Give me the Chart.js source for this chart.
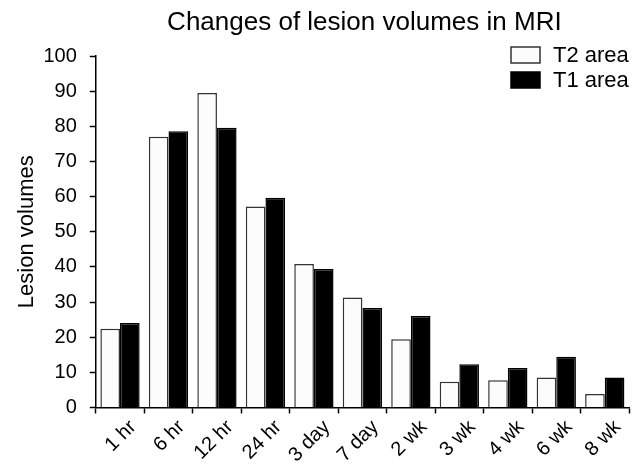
<!DOCTYPE html>
<html>
<head>
<meta charset="utf-8">
<script src="https://cdn.jsdelivr.net/npm/chart.js@4"></script>
<style>
  html, body { margin: 0; padding: 0; background: #fff; }
  #wrap { width: 642px; height: 464px; }
</style>
</head>
<body>
<div id="wrap"><canvas id="my-chart"></canvas></div>
<script>
const timePoints = ['1 hr', '6 hr', '12 hr', '24 hr', '3 day', '7 day', '2 wk', '3 wk', '4 wk', '6 wk', '8 wk'];
const t2Area = [22.4, 77.0, 89.5, 57.2, 40.8, 31.3, 19.4, 7.3, 7.7, 8.5, 3.8];
const t1Area = [24.0, 78.6, 79.6, 59.7, 39.4, 28.3, 26.0, 12.3, 11.2, 14.4, 8.5];
const yTicks = [0, 10, 20, 30, 40, 50, 60, 70, 80, 90, 100];
const chartTitle = 'Changes of lesion volumes in MRI';

const fontFamily = '"Liberation Sans", Arial, sans-serif';

// title + legend drawn by hand: title centred over the plot, legend stacked inside it
const titleAndLegend = {
  id: 'titleAndLegend',
  afterDraw(chart) {
    const ctx = chart.ctx;
    const area = chart.chartArea;
    ctx.save();
    ctx.fillStyle = '#000';
    ctx.font = '26px ' + fontFamily;
    ctx.textAlign = 'center';
    ctx.textBaseline = 'alphabetic';
    ctx.fillText(chartTitle, (area.left + area.right) / 2 + 2, 30);

    ctx.font = '22px ' + fontFamily;
    ctx.textAlign = 'left';
    ctx.textBaseline = 'middle';
    chart.data.datasets.forEach((ds, i) => {
      const x = area.right - 118;
      const y = area.top - 9 + i * 25;
      ctx.fillStyle = ds.backgroundColor;
      ctx.fillRect(x, y, 29, 16);
      ctx.strokeStyle = ds.borderColor;
      ctx.lineWidth = 1.5;
      ctx.strokeRect(x, y, 29, 16);
      ctx.fillStyle = '#000';
      ctx.fillText(ds.label, x + 42, y + 9);
    });
    ctx.restore();
  }
};

const ctx = document.getElementById('my-chart').getContext('2d');
const chart = new Chart(ctx, {
  type: 'bar',
  data: {
    labels: timePoints,
    datasets: [
      {
        label: 'T2 area',
        backgroundColor: '#fcfcfc',
        borderColor: '#333',
        borderWidth: 1.5,
        data: t2Area
      },
      {
        label: 'T1 area',
        backgroundColor: '#000',
        borderColor: '#000',
        borderWidth: 1.5,
        data: t1Area
      }
    ]
  },
  options: {
    responsive: true,
    maintainAspectRatio: false,
    animation: false,
    devicePixelRatio: 1,
    layout: { padding: { left: 14, right: 13, top: 56, bottom: -5 } },
    datasets: {
      bar: { categoryPercentage: 0.81, barPercentage: 1.0 }
    },
    plugins: {
      legend: { display: false },
      tooltip: { enabled: false },
      title: { display: false }
    },
    scales: {
      x: {
        offset: true,
        afterFit: s => { s.paddingLeft = 0; },
        grid: {
          offset: true,
          drawOnChartArea: false,
          drawTicks: true,
          tickLength: 6,
          tickColor: '#000',
          tickWidth: 1.5
        },
        border: { display: true, color: '#000', width: 1.5 },
        ticks: {
          color: '#000',
          font: { family: fontFamily, size: 20 },
          maxRotation: 45,
          minRotation: 45,
          padding: 2,
          labelOffset: 13
        }
      },
      y: {
        min: 0,
        max: 100,
        afterBuildTicks: axis => { axis.ticks = yTicks.map(v => ({ value: v })); },
        grid: {
          drawOnChartArea: false,
          drawTicks: true,
          tickLength: 6,
          tickColor: '#000',
          tickWidth: 1.5
        },
        border: { display: true, color: '#000', width: 1.5 },
        ticks: {
          color: '#000',
          font: { family: fontFamily, size: 20 },
          padding: 13
        },
        title: {
          display: true,
          text: 'Lesion volumes',
          color: '#000',
          font: { family: fontFamily, size: 22 },
          padding: { top: 0, bottom: -10 }
        }
      }
    }
  },
  plugins: [titleAndLegend]
});
</script>
</body>
</html>
